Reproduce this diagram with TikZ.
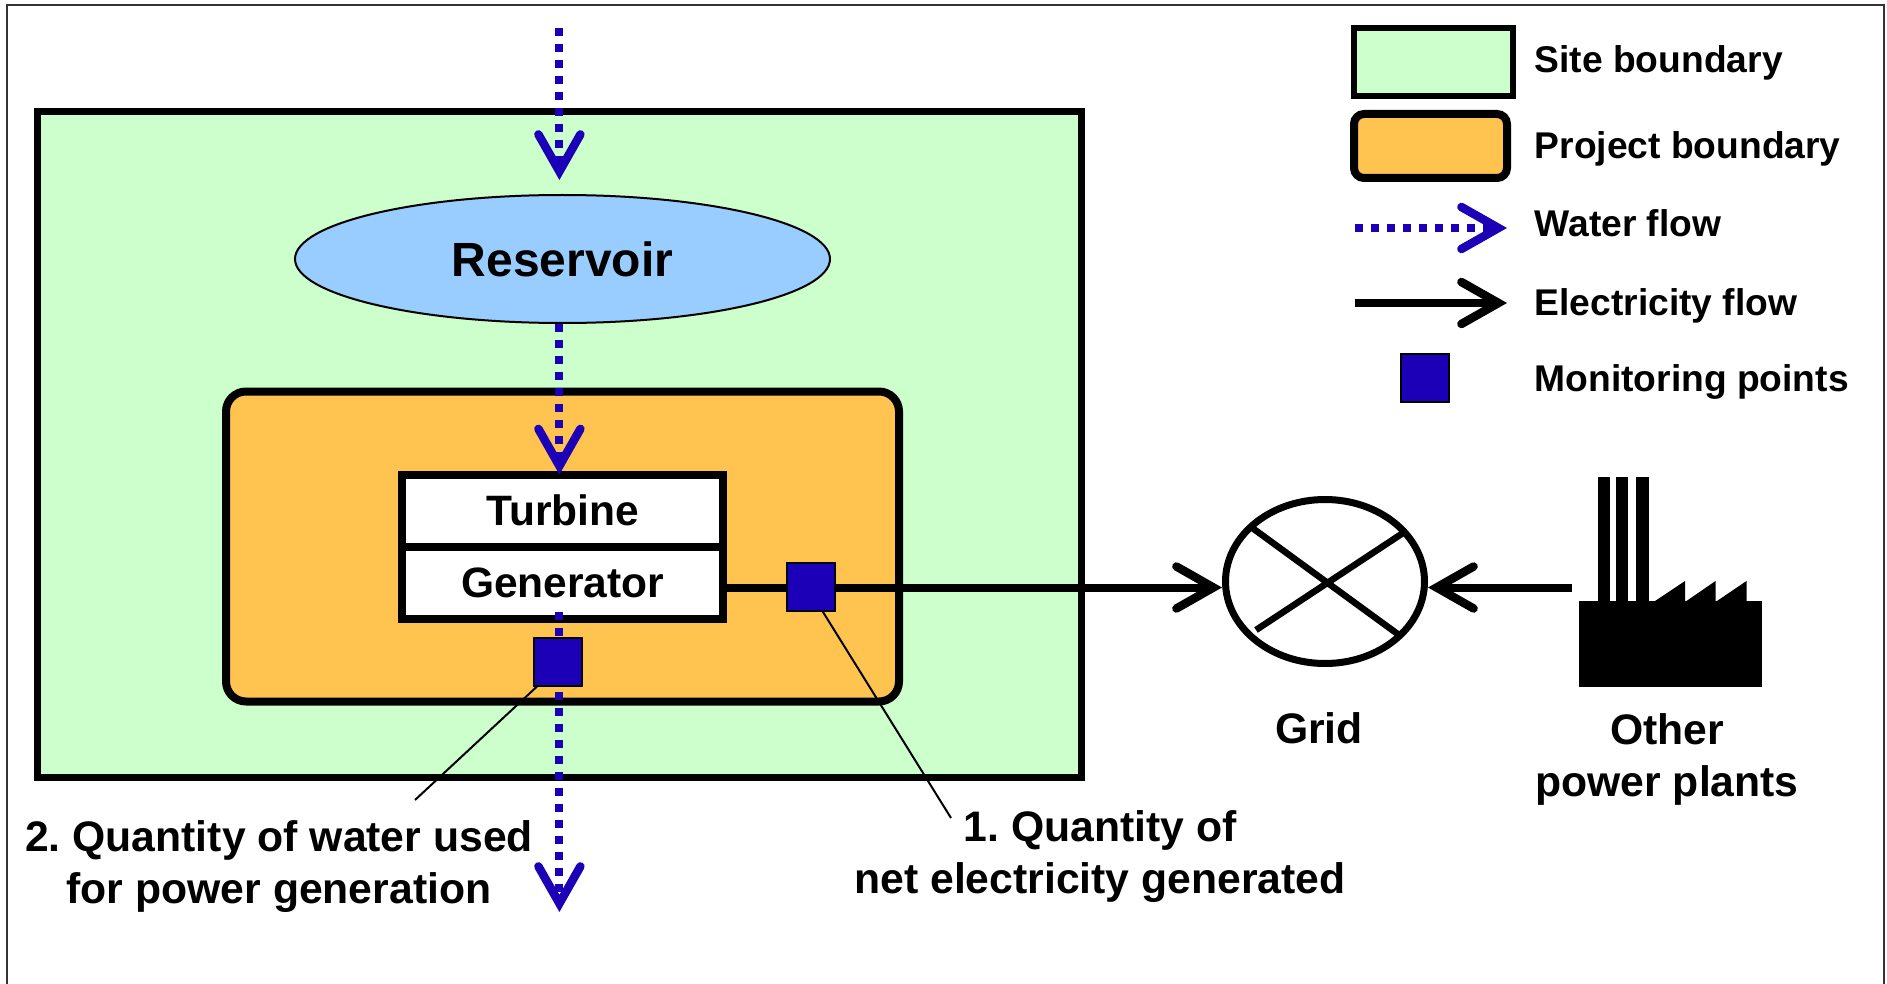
\documentclass[tikz,border=0pt]{standalone}
\usepackage{fontspec}
\setmainfont{Liberation Sans}
\usetikzlibrary{shapes,arrows.meta,positioning}
\definecolor{sitegreen}{HTML}{CCFFCC}
\definecolor{projectorange}{HTML}{FFC34F}
\definecolor{reservoirblue}{HTML}{99CCFF}
\definecolor{waterblue}{HTML}{1C00B8}
\frenchspacing

\begin{document}
\begin{tikzpicture}[x=1pt, y=-1pt, font=\bfseries, line cap=butt]
    % Estilos
    \tikzstyle{label} = [inner sep=0pt, align=center, font=\fontsize{42.7}{52}\selectfont\bfseries]
    \tikzstyle{legendtext} = [inner sep=0pt, anchor=base west, font=\fontsize{37.2}{44}\selectfont\bfseries]
    \tikzstyle{siteblock} = [rectangle, draw, fill=sitegreen, line width=6.5pt, outer sep=0pt, inner sep=0pt]
    \tikzstyle{projectblock} = [rectangle, draw, fill=projectorange, line width=8pt, rounded corners=20pt, outer sep=0pt, inner sep=0pt]
    \tikzstyle{block} = [rectangle, draw, fill=white, line width=8pt, minimum width=321.5pt, minimum height=72pt,
        outer sep=0pt, inner sep=0pt, font=\fontsize{42.5}{52}\selectfont\bfseries]
    \tikzstyle{monitor} = [rectangle, draw, fill=waterblue, line width=2pt, minimum size=48pt, inner sep=0pt]
    \tikzstyle{waterflow} = [draw=waterblue, line width=8pt, dash pattern=on 8pt off 8pt,
        -{Straight Barb[length=37pt, width=42pt, line width=8.5pt, line cap=round, line join=miter]}]
    \tikzstyle{elecflow} = [draw, line width=8pt,
        -{Straight Barb[length=37pt, width=42pt, line width=8.5pt, line cap=round, line join=miter]}]
    \tikzstyle{leader} = [draw, line width=2pt]

    \useasboundingbox (0,0) rectangle (1887,984);
    \fill [white] (0,0) rectangle (1887,984);
    \draw [line width=2pt, black!80] (7,990) -- (7,5) -- (1884,5) -- (1884,990);

    % Lado izquierdo
    \node [siteblock, minimum width=1044pt, minimum height=666pt] (site) at (559.5,444.5) {};
    \coordinate (watertop) at (559.4,28);
    \coordinate (waterout) at (559.4,912);
    \coordinate (elecline) at (0,587.5);

    \node [ellipse, draw, fill=reservoirblue, line width=2pt, minimum width=535pt, minimum height=128pt, inner sep=0pt,
        font=\fontsize{48}{56}\selectfont\bfseries] (reservoir) at (562.5,259) {\raisebox{-1.5pt}{Reservoir}};
    \draw [waterflow, shorten >=14pt] (watertop) -- (watertop |- reservoir.north);

    \node [projectblock, minimum width=673pt, minimum height=310pt] (project) at (562.5,546.5) {};
    \node [block] (turbine) at (562.7,510.5) {\raisebox{-4pt}{Turbine}};
    \node [block, below = 0pt of turbine] (generator) {\raisebox{-4pt}{Generator}};

    \draw [waterflow] (watertop |- reservoir.south) -- (watertop |- turbine.north);
    \draw [waterflow, shorten <=-7pt] (watertop |- generator.south) -- (waterout);

    \node [ellipse, draw, line width=7pt, minimum width=199pt, minimum height=164pt, inner sep=0pt] (grid) at (1325,581.5) {};
    \draw [line width=6.5pt] (1251,527) -- (1399,635);
    \draw [line width=6.5pt] (1403,533) -- (1256,630);

    \draw [elecflow] (generator.east |- elecline) -- (grid.west |- elecline);

    \node [monitor] (watermeter) at (558,661.5) {};
    \node [monitor] (elecmeter) at (810.7,586.5) {};
    \coordinate (waterend) at (415,800);
    \coordinate (elecend) at (951,818);
    \draw [leader] ([xshift=4pt]watermeter.south west) -- (waterend);
    \draw [leader] ([xshift=12pt]elecmeter.south) -- (elecend);

    % Otras plantas
    \node [rectangle, fill=black, minimum width=183pt, minimum height=86pt, inner sep=0pt, outer sep=0pt] (plant) at (1670,644) {};
    \fill (1597.5,477) rectangle (1609.5,602);
    \fill (1615.5,477) rectangle (1627.5,602);
    \fill (1635.5,477) rectangle (1648.5,602);
    \fill (1653.5,602) -- (1685,581) -- (1685,602) -- (1715.5,581) -- (1715.5,602) -- (1746.5,581) -- (1746.5,602) -- cycle;
    \draw [elecflow, shorten <=7pt] (plant.west |- elecline) -- (grid.east |- elecline);

    % Textos
    \node [label, anchor=base] (gridlabel) at (1319,743) {Grid};
    \node [label, anchor=base] (plantlabel) at (1667,796.5) {Other\\power plants};
    \node [label, anchor=base] (elecquantity) at (1100,893.5) {1. Quantity of\\net electricity generated};
    \node [label, anchor=base] (waterquantity) at (279,903) {2. Quantity of water used\\for power generation};

    % Leyenda
    \node [siteblock, minimum width=159pt, minimum height=68pt] (legendsite) at (1433.5,62) {};
    \node [projectblock, rounded corners=10pt, minimum width=153pt, minimum height=64pt] (legendproject) at (1430.5,146) {};
    \coordinate (legendwater) at (1355,228);
    \coordinate (legendwaterend) at (1507,228);
    \coordinate (legendelec) at (1355,303);
    \coordinate (legendelecend) at (1507,303);
    \draw [waterflow] (legendwater) -- (legendwaterend);
    \draw [elecflow] (legendelec) -- (legendelecend);
    \node [monitor] (legendmonitor) at (1425,378) {};

    \node [legendtext] (sitetext) at (1534.5,73) {Site boundary};
    \node [legendtext] (projecttext) at (1534.5,159) {Project boundary};
    \node [legendtext] (watertext) at (1534.5,237) {Water flow};
    \node [legendtext] (electext) at (1534.5,316) {Electricity flow};
    \node [legendtext] (monitortext) at (1534.5,391) {Monitoring points};
\end{tikzpicture}
\end{document}
